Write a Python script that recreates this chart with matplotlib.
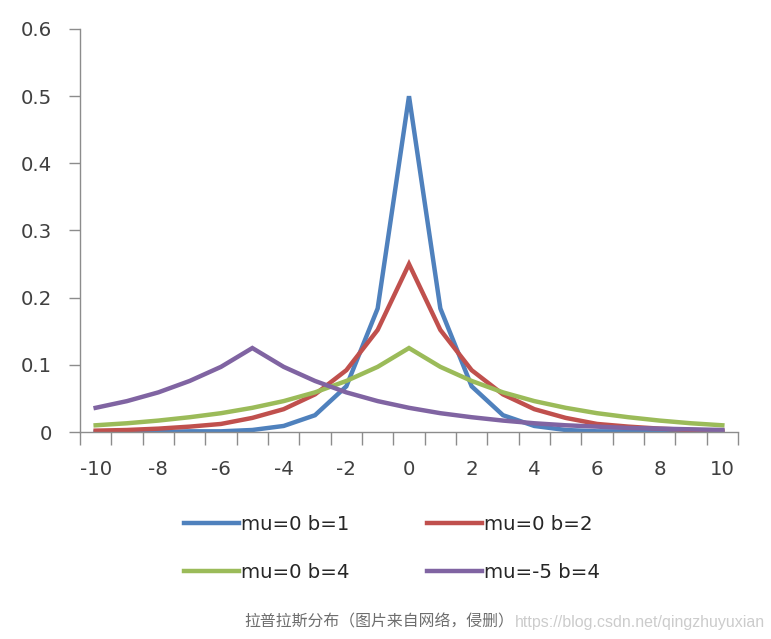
import matplotlib
matplotlib.use('Agg')
import matplotlib.pyplot as plt
import numpy as np

# Laplace pdf values, x = -10 .. 10
x = list(range(-10, 11))
b1 = [0.000, 0.000, 0.000, 0.001, 0.001, 0.003, 0.009, 0.025, 0.068, 0.184, 0.500,
      0.184, 0.068, 0.025, 0.009, 0.003, 0.001, 0.001, 0.000, 0.000, 0.000]
b2 = [0.002, 0.003, 0.005, 0.008, 0.012, 0.021, 0.034, 0.056, 0.092, 0.152, 0.250,
      0.152, 0.092, 0.056, 0.034, 0.021, 0.012, 0.008, 0.005, 0.003, 0.002]
b4 = [0.010, 0.013, 0.017, 0.022, 0.028, 0.036, 0.046, 0.059, 0.076, 0.097, 0.125,
      0.097, 0.076, 0.059, 0.046, 0.036, 0.028, 0.022, 0.017, 0.013, 0.010]
m5 = [0.036, 0.046, 0.059, 0.076, 0.097, 0.125, 0.097, 0.076, 0.059, 0.046, 0.036,
      0.028, 0.022, 0.017, 0.013, 0.010, 0.008, 0.006, 0.005, 0.004, 0.003]
labels = ['mu=0 b=1', 'mu=0 b=2', 'mu=0 b=4', 'mu=-5 b=4']
colors = ['#4F81BD', '#C0504D', '#9BBB59', '#8064A2']
yticks = [0, 0.1, 0.2, 0.3, 0.4, 0.5, 0.6]
ytick_labels = ['0', '0.1', '0.2', '0.3', '0.4', '0.5', '0.6']

plt.rcParams['font.family'] = ['DejaVu Sans']
FS = 14.2

fig = plt.figure(figsize=(7.71, 6.39), dpi=100)
ax = fig.add_axes([80 / 771, 207 / 639, 658 / 771, 403 / 639])

lines = []
for ys, lab, c in zip([b1, b2, b4, m5], labels, colors):
    ln, = ax.plot(x, ys, color=c, lw=3.2, label=lab, solid_joinstyle='miter')
    lines.append(ln)

ax.set_xlim(x[0] - 0.5, x[-1] + 0.5)
ax.set_ylim(0, 0.6)

# category boundaries get the tick marks, every other category gets a label
ax.set_xticks(np.arange(x[0] - 0.5, x[-1] + 1, 1), labels=[''] * (len(x) + 1))
ax.set_xticks(x[::2], labels=[str(v) for v in x[::2]], minor=True)
ax.tick_params(axis='x', which='major', direction='out', length=9, width=1, color='#8c8c8c')
ax.tick_params(axis='x', which='minor', length=0, pad=20, labelsize=FS, labelcolor='#404040')
ax.set_yticks(yticks, labels=ytick_labels)
ax.tick_params(axis='y', direction='out', length=8, width=1, color='#8c8c8c',
               pad=12, labelsize=FS, labelcolor='#404040')

for s in ['top', 'right']:
    ax.spines[s].set_visible(False)
for s in ['left', 'bottom']:
    ax.spines[s].set_color('#8c8c8c')
    ax.spines[s].set_linewidth(1)

order = [0, 2, 1, 3]
fig.legend([lines[i] for i in order], [labels[i] for i in order],
           loc='upper left', bbox_to_anchor=(184 / 771, 1 - 515 / 639),
           ncol=2, frameon=False, fontsize=FS, handlelength=2.8,
           handletextpad=0.1, columnspacing=3.9, labelspacing=1.45, borderpad=0,
           borderaxespad=0, labelcolor='#262626')

fig.text(514 / 771, 1 - 622 / 639, '拉普拉斯分布（图片来自网络，侵删）',
         ha='right', va='center', fontsize=11.4, color='#6e6e6e',
         family=['Noto Sans CJK SC', 'DejaVu Sans'])
fig.text(515 / 771, 1 - 622 / 639, 'https://blog.csdn.net/qingzhuyuxian',
         ha='left', va='center', fontsize=11.5, color='#cccccc',
         family=['Liberation Sans', 'DejaVu Sans'])

fig.savefig('out.png', dpi=100)
plt.close(fig)
